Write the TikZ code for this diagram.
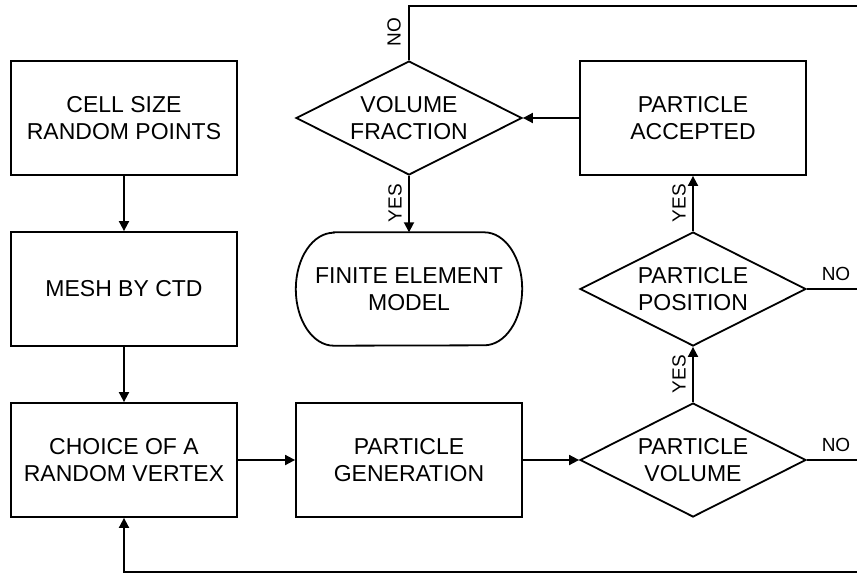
\documentclass[tikz,border=0pt]{standalone}
\usepackage{fontspec}
\setmainfont{Liberation Sans}
\usetikzlibrary{shapes.geometric,arrows.meta}
\begin{document}
\begin{tikzpicture}[x=1pt,y=1pt,
  every node/.style={font=\fontsize{23}{26.5}\selectfont},
  proc/.style={draw, line width=1.8pt, minimum width=226pt, minimum height=114pt, inner sep=0pt, align=center},
  dec/.style={draw, line width=1.8pt, shape=diamond, aspect=1.98, minimum width=226pt, minimum height=114pt, inner sep=0pt, align=center},
  term/.style={minimum width=226pt, minimum height=113pt, inner sep=0pt, align=center},
  conn/.style={line width=1.8pt, -{Triangle[length=10pt,width=10pt]}},
  plain/.style={line width=1.8pt},
  lab/.style={font=\fontsize{19}{22}\selectfont, inner sep=1pt}
]
\useasboundingbox (0,0) rectangle (857,-574);

\node[proc] (cell) at (124,-118) {CELL SIZE\\RANDOM POINTS};
\node[proc] (mesh) at (124,-289) {MESH BY CTD};
\node[proc] (choice) at (124,-460) {CHOICE OF A\\RANDOM VERTEX};
\node[proc] (gen) at (409,-460) {PARTICLE\\GENERATION};
\node[dec] (pvol) at (693,-460) {PARTICLE\\VOLUME};
\node[dec] (ppos) at (693,-289) {PARTICLE\\POSITION};
\node[proc] (acc) at (693,-118) {PARTICLE\\ACCEPTED};
\node[dec] (vf) at (409,-118) {VOLUME\\FRACTION};
\node[term] (fem) at (409,-289) {FINITE ELEMENT\\MODEL};
\draw[plain] ([xshift=38pt]fem.north west) -- ([xshift=-38pt]fem.north east)
  arc[start angle=90,end angle=-90,x radius=38pt,y radius=56.5pt]
  -- ([xshift=38pt]fem.south west)
  arc[start angle=270,end angle=90,x radius=38pt,y radius=56.5pt] -- cycle;

\coordinate (tr) at (857,-6);
\coordinate (r2) at (857,-289);
\coordinate (r3) at (857,-460);
\coordinate (br) at (857,-572);

\draw[conn] (cell) -- (mesh);
\draw[conn] (mesh) -- (choice);
\draw[conn] (choice) -- (gen);
\draw[conn] (gen) -- (pvol);
\draw[conn] (pvol) -- (ppos);
\draw[conn] (ppos) -- (acc);
\draw[conn] (acc) -- (vf);
\draw[conn] (vf) -- (fem.north);
\draw[plain] (vf.north) |- (tr);
\draw[plain] (ppos.east) -- (r2);
\draw[plain] (pvol.east) -- (r3);
\draw[conn] (br) -| (choice.south);

\node[lab, rotate=90] (no1) at (394,-32) {NO};
\node[lab] (no2) at (836,-274) {NO};
\node[lab] (no3) at (836,-445) {NO};
\node[lab, rotate=90] (yes1) at (395,-203) {YES};
\node[lab, rotate=90] (yes2) at (679,-203) {YES};
\node[lab, rotate=90] (yes3) at (679,-374) {YES};
\end{tikzpicture}
\end{document}
